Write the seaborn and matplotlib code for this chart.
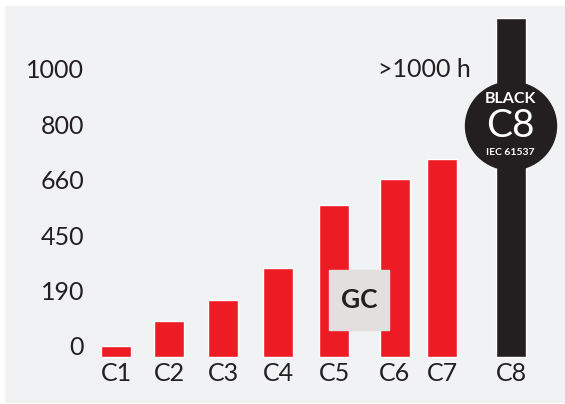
import numpy as np
import pandas as pd
import matplotlib
matplotlib.use("Agg")
import matplotlib.pyplot as plt
import seaborn as sns
from matplotlib.patches import Rectangle, Ellipse

# Data (hours of salt spray per corrosion class)
categories = ["C1", "C2", "C3", "C4", "C5", "C6", "C7", "C8"]
hours = [0, 85, 158, 295, 565, 662, 712, 1185]
tick_hours = [0, 190, 450, 660, 800, 1000]
tick_labels = ["0", "190", "450", "660", "800", "1000"]
bar_colors = ["#ed1c24"] * 7 + ["#231f20"]

# Layout (pixel positions on the 565x404 canvas)
bar_pos = [116, 169, 223, 278, 334, 395, 442, 511]
Y0 = 357      # bar baseline in px
UNIT = 55.4   # px per tick step
BASE = 0.2    # bar baseline sits a bit below the "0" label
DARK = "#231f20"


def to_level(h):
    # axis ticks are evenly spaced, so map hours piecewise onto tick steps
    h = np.asarray(h, float)
    lv = np.interp(h, tick_hours, np.arange(len(tick_hours)))
    over = h > tick_hours[-1]
    lv[over] = len(tick_hours) - 1 + (h[over] - tick_hours[-1]) / (tick_hours[-1] - tick_hours[-2])
    return lv


def px_to_u(py):
    return (Y0 - py) / UNIT


df = pd.DataFrame({"cat": categories, "pos": bar_pos, "level": to_level(hours) + BASE})

sns.set_theme(style="white")
plt.rcParams["font.family"] = ["Lato", "DejaVu Sans"]

fig = plt.figure(figsize=(5.65, 4.04), dpi=100)
fig.patch.set_facecolor("white")
ax = fig.add_axes([5 / 565, 1 / 404, 560 / 565, 397 / 404])
ax.set_facecolor("#f1f2f4")

sns.barplot(data=df, x="pos", y="level", hue="cat", palette=bar_colors,
            native_scale=True, dodge=False, width=30 / 47, saturation=1,
            legend=False, ax=ax)

ax.set_xlim(5, 565)
ax.set_ylim(px_to_u(403), px_to_u(6))

# ticks
ax.set_yticks(np.arange(len(tick_hours)) + BASE, tick_labels)
ax.set_xticks(bar_pos, categories)
ax.spines["bottom"].set_position(("data", 0))
for s in ax.spines.values():
    s.set_visible(False)
ax.tick_params(axis="y", length=0, pad=-79 * 0.72, labelsize=18, labelcolor=DARK)
ax.tick_params(axis="x", length=0, pad=3.5, labelsize=18, labelcolor=DARK)
ax.set_xlabel("")
ax.set_ylabel("")

# annotations
ax.text(471, px_to_u(69), ">1000 h", ha="right", va="center", fontsize=18, color=DARK)

ax.add_patch(Rectangle((329, px_to_u(330)), 60, 60 / UNIT, color="#e1e0de", zorder=3))
ax.text(359, px_to_u(300), "GC", ha="center", va="center", fontsize=19,
        fontweight="bold", color=DARK, zorder=4)

ax.add_patch(Ellipse((511, px_to_u(126)), 91, 88 / UNIT, color=DARK, zorder=3))
ax.text(510, px_to_u(99), "BLACK", ha="center", va="center", fontsize=11.5,
        fontweight="bold", color="white", zorder=4)
ax.text(510, px_to_u(126), "C8", ha="center", va="center", fontsize=28,
        color="white", zorder=4)
ax.text(510, px_to_u(152), "IEC 61537", ha="center", va="center", fontsize=7.5,
        fontweight="bold", color="white", zorder=4)

fig.savefig("out.png", dpi=100)
